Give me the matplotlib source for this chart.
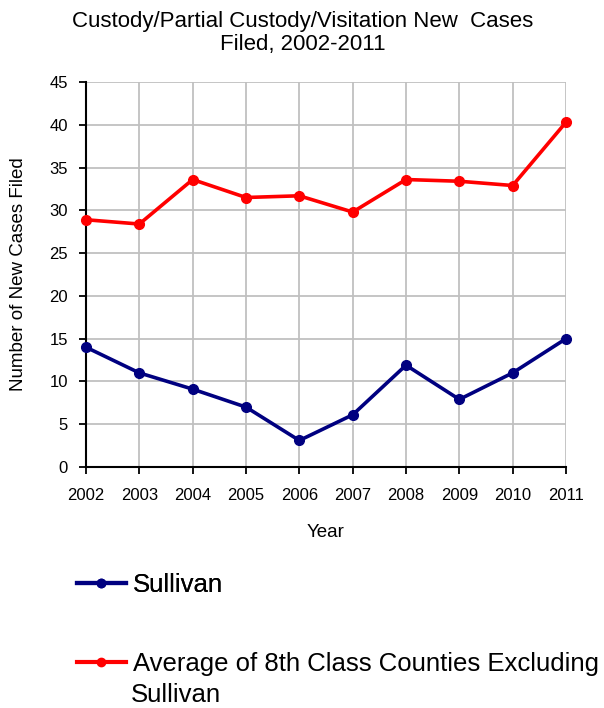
import matplotlib
matplotlib.use("Agg")
import matplotlib.pyplot as plt
from matplotlib.lines import Line2D

plt.rcParams['font.family'] = ['Liberation Sans', 'DejaVu Sans']

years = [2002, 2003, 2004, 2005, 2006, 2007, 2008, 2009, 2010, 2011]
sullivan = [14.0, 11.0, 9.1, 7.0, 3.1, 6.1, 11.9, 7.9, 11.0, 15.0]
average = [28.9, 28.4, 33.6, 31.5, 31.7, 29.8, 33.6, 33.4, 32.9, 40.3]
yticks = [0, 5, 10, 15, 20, 25, 30, 35, 40, 45]

title1 = "Custody/Partial Custody/Visitation New  Cases"
title2 = "Filed, 2002-2011"
xlabel = "Year"
ylabel = "Number of New Cases Filed"
label_s = "Sullivan"
label_a1 = "Average of 8th Class Counties Excluding"
label_a2 = "Sullivan"

blue = "#000080"
red = "#FF0000"

fig = plt.figure(figsize=(6.04, 7.08), dpi=100)
ax = fig.add_axes([86/604, 1-467/708, (566-86)/604, (467-82)/708])

ax.plot(years, sullivan, color=blue, lw=2.6, marker='o', ms=7, zorder=3, clip_on=False)
ax.plot(years, average, color=red, lw=2.6, marker='o', ms=7, zorder=3, clip_on=False)

ax.set_xlim(years[0], years[-1])
ax.set_ylim(0, 45)
ax.set_xticks(years)
ax.set_yticks(yticks)
ax.tick_params(axis='both', labelsize=12, length=5, width=1.3, direction='out', color='black')
ax.tick_params(axis='x', pad=10)
ax.tick_params(axis='y', pad=8)
ax.grid(True, color='#C0C0C0', lw=1.3)
ax.set_axisbelow(True)
for s in ['top', 'right']:
    ax.spines[s].set_visible(False)
for s in ['left', 'bottom']:
    ax.spines[s].set_linewidth(1.5)

ax.set_xlabel(xlabel, fontsize=13.5)
ax.xaxis.set_label_coords(0.5, -0.148)
ax.set_ylabel(ylabel, fontsize=13.5)
ax.yaxis.set_label_coords(-0.123, 0.5)

fig.text(303/604, 1-27/708, title1, ha='center', va='baseline', fontsize=16)
fig.text(303/604, 1-50/708, title2, ha='center', va='baseline', fontsize=16)

h_s = Line2D([], [], color=blue, lw=3, marker='o', ms=6)
h_a = Line2D([], [], color=red, lw=3, marker='o', ms=6)
leg1 = fig.legend([h_s], [label_s], loc='center left', bbox_to_anchor=(77/604, 1-585/708),
                  frameon=False, fontsize=18.5, handlelength=1.9, handletextpad=0.28,
                  borderpad=0, borderaxespad=0)
leg2 = fig.legend([h_a], [label_a1], loc='center left', bbox_to_anchor=(77/604, 1-664/708),
                  frameon=False, fontsize=18.5, handlelength=1.9, handletextpad=0.28,
                  borderpad=0, borderaxespad=0)
fig.add_artist(leg1)
fig.text(131/604, 1-702/708, label_a2, ha='left', va='baseline', fontsize=18.5)

fig.savefig("out.png", dpi=100)
